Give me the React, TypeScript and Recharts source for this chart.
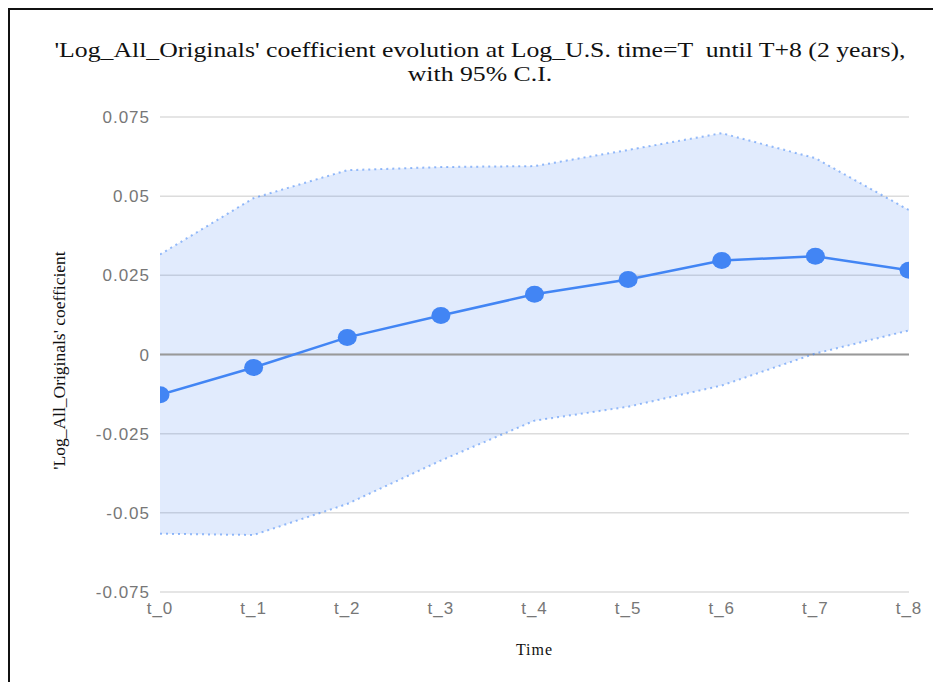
import {
  Area,
  CartesianGrid,
  ComposedChart,
  Label,
  Line,
  ReferenceLine,
  XAxis,
  YAxis,
} from "recharts";

const periods = ["t_0", "t_1", "t_2", "t_3", "t_4", "t_5", "t_6", "t_7", "t_8"];
const coefficient = [-0.0127, -0.0041, 0.0054, 0.0123, 0.019, 0.0237, 0.0297, 0.031, 0.0266];
const upper = [0.0316, 0.0494, 0.0582, 0.0592, 0.0595, 0.0646, 0.0699, 0.062, 0.0456];
const lower = [-0.0566, -0.057, -0.0472, -0.0335, -0.0209, -0.0165, -0.0098, 0.0003, 0.0076];
const yTicks = [-0.075, -0.05, -0.025, 0, 0.025, 0.05, 0.075];

const data = periods.map((t, i) => ({
  t,
  coef: coefficient[i],
  hi: upper[i],
  lo: lower[i],
  ci: [lower[i], upper[i]],
}));

const blue = "#4285f4";
const serif = "'Liberation Serif', 'Times New Roman', serif";
const sans = "'Liberation Sans', Arial, sans-serif";
const tickStyle = { fill: "#777", fontSize: 17, fontFamily: sans, letterSpacing: 1 };

// the source picture is a bit wider than tall, so the markers are slightly oval
const OvalDot = (props: any) => {
  const { cx, cy, index } = props;
  if (cx == null || cy == null) return null;
  return <ellipse key={index} cx={cx} cy={cy} rx={9.5} ry={8.5} fill={blue} />;
};

export default function App() {
  return (
    <div
      style={{
        position: "relative",
        width: 931,
        height: 672,
        borderTop: "2px solid #111",
        borderLeft: "2px solid #111",
        background: "white",
      }}
    >
      <div
        style={{
          position: "absolute",
          left: 0,
          top: 28,
          width: 940,
          textAlign: "center",
          fontFamily: serif,
          fontSize: 22,
          lineHeight: "24px",
          color: "#111",
          whiteSpace: "pre",
          transform: "scaleX(1.17)",
          transformOrigin: "center",
        }}
      >
        {"'Log_All_Originals' coefficient evolution at Log_U.S. time=T  until T+8 (2 years),\nwith 95% C.I."}
      </div>
      <ComposedChart
        width={931}
        height={672}
        data={data}
        margin={{ top: 107, right: 32, bottom: 20, left: 40 }}
      >
        <CartesianGrid vertical={false} stroke="#dcdcdc" strokeWidth={1.5} />
        <XAxis
          dataKey="t"
          scale="point"
          allowDataOverflow
          axisLine={false}
          tickLine={false}
          tickSize={0}
          tickMargin={10}
          height={70}
          tick={tickStyle}
        >
          <Label
            value="Time"
            position="insideBottom"
            offset={7}
            style={{ fill: "#111", fontSize: 16, fontFamily: serif, letterSpacing: 1 }}
          />
        </XAxis>
        <YAxis
          type="number"
          domain={[-0.075, 0.075]}
          ticks={yTicks}
          allowDataOverflow
          axisLine={false}
          tickLine={false}
          tickSize={0}
          tickMargin={10}
          width={110}
          tickFormatter={(v) => String(v)}
          tick={tickStyle}
        >
          <Label
            value="'Log_All_Originals' coefficient"
            angle={-90}
            position="insideLeft"
            offset={9}
            dy={6}
            style={{ fill: "#111", fontSize: 17.5, fontFamily: serif, textAnchor: "middle" }}
          />
        </YAxis>
        <Area
          dataKey="ci"
          stroke="none"
          fill={blue}
          fillOpacity={0.16}
          isAnimationActive={false}
        />
        <ReferenceLine y={0} stroke="#999" strokeWidth={2} />
        <Line
          dataKey="hi"
          stroke={blue}
          strokeOpacity={0.55}
          strokeWidth={2}
          strokeDasharray="2 4"
          dot={false}
          isAnimationActive={false}
        />
        <Line
          dataKey="lo"
          stroke={blue}
          strokeOpacity={0.55}
          strokeWidth={2}
          strokeDasharray="2 4"
          dot={false}
          isAnimationActive={false}
        />
        <Line
          dataKey="coef"
          stroke={blue}
          strokeWidth={2.5}
          dot={<OvalDot />}
          isAnimationActive={false}
        />
      </ComposedChart>
    </div>
  );
}
